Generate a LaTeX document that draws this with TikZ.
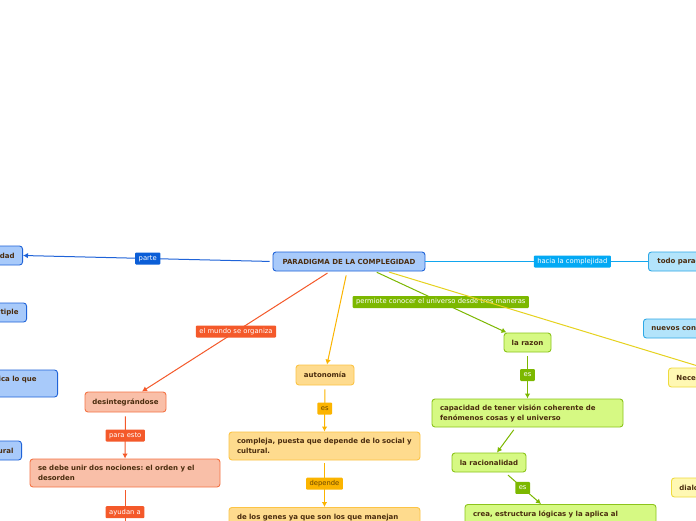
\documentclass[tikz,border=0pt]{standalone}
\usepackage{fontspec}
\setmainfont{DejaVu Sans}
\usetikzlibrary{arrows.meta}
\frenchspacing
\definecolor{txt}{HTML}{4A2C0E}
\definecolor{bluefill}{HTML}{A8CAFA}
\definecolor{blueline}{HTML}{1F63D8}
\definecolor{bluelbl}{HTML}{0B5ED7}
\definecolor{orline}{HTML}{F4592A}
\definecolor{orfill}{HTML}{F9BFA8}
\definecolor{ordraw}{HTML}{F47445}
\definecolor{amline}{HTML}{FBB400}
\definecolor{amfill}{HTML}{FEDB8E}
\definecolor{amdraw}{HTML}{FCC445}
\definecolor{amtxt}{HTML}{6A4500}
\definecolor{grline}{HTML}{7CB800}
\definecolor{grfill}{HTML}{D6F983}
\definecolor{grdraw}{HTML}{8CC41C}
\definecolor{cyline}{HTML}{12A6EE}
\definecolor{cylbl}{HTML}{03A9F4}
\definecolor{cyfill}{HTML}{B3E4FB}
\definecolor{cydraw}{HTML}{2EA8E6}
\definecolor{yeline}{HTML}{E6D21E}
\definecolor{yefill}{HTML}{FFF8B3}
\definecolor{yedraw}{HTML}{EEDA3E}
\tikzset{
  box/.style={draw, rounded corners=3pt, line width=0.9pt, text=txt,
    font=\bfseries\fontsize{7}{10}\selectfont, inner xsep=8pt, inner ysep=0pt,
    minimum height=19pt},
  bigbox/.style={box, text width=#1, align=left, minimum height=28pt},
  bluebox/.style={box, fill=bluefill, draw=blueline},
  orbox/.style={box, fill=orfill, draw=ordraw},
  ambox/.style={box, fill=amfill, draw=amdraw},
  grbox/.style={box, fill=grfill, draw=grdraw},
  cybox/.style={box, fill=cyfill, draw=cydraw},
  yebox/.style={box, fill=yefill, draw=yedraw},
  lbl/.style={rounded corners=1pt, text=white, font=\fontsize{6.8}{8}\selectfont,
    inner xsep=3.5pt, inner ysep=0pt, minimum height=12pt},
  conn/.style={line width=1pt},
  arr/.style={conn, -{Latex[length=5pt,width=5.5pt]}},
}
\begin{document}
\begin{tikzpicture}[x=1pt,y=-1pt]
\useasboundingbox (0,0) rectangle (696,520);
\fill[white] (0,0) rectangle (696,520);
% nodes
\node[bluebox, minimum width=152pt, inner xsep=0pt] (main) at (349,261.5) {PARADIGMA DE LA COMPLEGIDAD};
\node[bluebox, text width=37pt, align=right, anchor=east] (n1) at (23,255.5) {idad};
\node[bluebox, text width=41pt, align=right, anchor=east] (n2) at (27,312.5) {ltiple};
\node[bluebox, text width=90pt, align=right, anchor=east, minimum height=27pt] (n3) at (58,383.5) {ica lo que\kern13pt\mbox{}\\\mbox{}};
\node[bluebox, text width=36pt, align=right, anchor=east] (n4) at (22,450.5) {ural};

\node[orbox, minimum width=81pt, inner xsep=0pt, minimum height=20pt] (desint) at (125.5,402) {desintegrándose};
\node[orbox, bigbox=174pt] (nociones) at (125,473) {se debe unir dos nociones: el orden y el\\desorden};
\coordinate (offA) at (125,545);

\node[ambox, minimum width=58pt, inner xsep=0pt, minimum height=20pt] (auto) at (325,375) {autonomía};
\node[ambox, bigbox=175pt] (compleja) at (324.5,446) {compleja, puesta que depende de lo social y\\cultural.};
\node[ambox, bigbox=175pt, anchor=north] (genes) at (324.5,507) {de los genes ya que son los que manejan\\\mbox{}};

\node[grbox, minimum width=47pt, inner xsep=0pt] (razon) at (527.5,342.5) {la razon};
\node[grbox, bigbox=175pt] (capac) at (527.5,413) {capacidad de tener visión coherente de\\fenómenos cosas y el universo};
\node[grbox, minimum width=74pt, inner xsep=0pt] (racion) at (489,462.5) {la racionalidad};
\node[grbox, bigbox=175pt, anchor=north] (crea) at (560.5,504) {crea, estructura lógicas y la aplica al\\\mbox{}};

\node[cybox, anchor=west, text width=70pt, align=left, inner xsep=9pt] (todo) at (648,261.5) {todo parad};
\node[cybox, anchor=west, text width=70pt, align=left] (nuevos) at (643,328.5) {nuevos con};
\node[yebox, anchor=west, text width=70pt, align=left] (neces) at (668,377.5) {Neces};
\node[yebox, anchor=west, text width=70pt, align=left] (dialo) at (671,487.5) {dialo};

% connectors
\draw[arr, blueline, shorten <=3pt] (main.west) -- node[lbl, fill=bluelbl, pos=0.5] {parte} (n1.east);
\draw[arr, orline, shorten <=3pt] ([xshift=-19pt]main.south) -- node[lbl, fill=orline, pos=0.5] {el mundo se organiza} ([xshift=16.5pt]desint.north);
\draw[arr, orline, shorten <=4pt] (desint.south) -- node[lbl, fill=orline, pos=0.5] {para esto} (nociones.north);
\draw[conn, orline, shorten <=3pt] (nociones.south) -- node[lbl, fill=orline, pos=0.43] {ayudan a} (offA);

\draw[arr, amline, shorten <=4pt] ([xshift=-2pt]main.south) -- ([xshift=2pt]auto.north);
\draw[arr, amline, shorten <=4pt] (auto.south) -- node[lbl, fill=amline, text=amtxt, pos=0.5] {es} (compleja.north);
\draw[arr, amline, shorten <=3pt] (compleja.south) -- node[lbl, fill=amline, text=amtxt, pos=0.5] {depende} (genes.north);

\draw[arr, grline, shorten <=2pt] ([xshift=26pt]main.south) -- node[lbl, fill=grline, pos=0.5] {permiote conocer el universo desde tres maneras} ([xshift=-21pt]razon.north);
\draw[arr, grline, shorten <=4pt] (razon.south) -- node[lbl, fill=grline, pos=0.49] {es} (capac.north);
\draw[arr, grline, shorten <=3pt] ([xshift=-12pt]capac.south) -- ([xshift=8pt]racion.north);
\draw[arr, grline, shorten <=4pt] ([xshift=16pt]racion.south) -- node[lbl, fill=grline, pos=0.49] {es} ([xshift=-19.5pt]crea.north);

\draw[conn, cyline] (main.east) -- node[lbl, fill=cylbl, pos=0.66] {hacia la complejidad} (todo.west);
\draw[conn, yeline, shorten <=2pt] ([xshift=38pt]main.south) -- ([xshift=35pt]neces.north west);
\end{tikzpicture}
\end{document}
